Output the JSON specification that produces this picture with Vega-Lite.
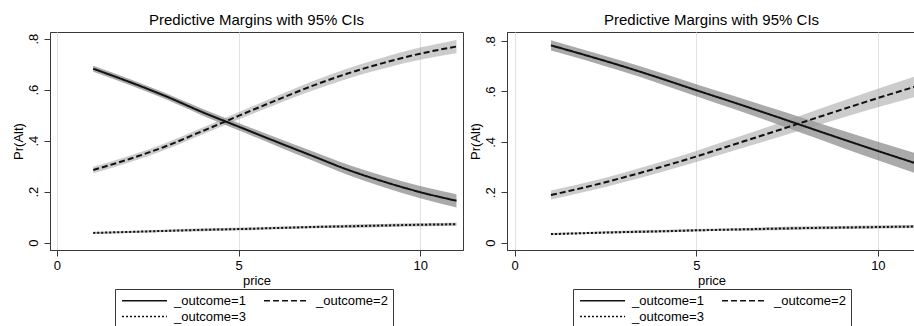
{
  "$schema": "https://vega.github.io/schema/vega-lite/v6.json",
  "background": "white",
  "padding": {"left": 11, "top": 12, "right": 0, "bottom": 0},
  "config": {
    "font": "Liberation Sans",
    "view": {"stroke": "#3a3a3a", "strokeWidth": 1},
    "axis": {"domainColor": "#3a3a3a", "tickColor": "#3a3a3a", "tickSize": 6, "labelFontSize": 13, "titleFontSize": 13, "titleFontWeight": "normal", "labelColor": "black", "titleColor": "black", "gridColor": "#e2e2e2"},
    "title": {"fontSize": 15, "fontWeight": "normal", "offset": 4, "color": "black"},
    "legend": {"direction": "horizontal", "columns": 2, "strokeColor": "#3a3a3a", "fillColor": "white", "padding": 5, "symbolType": "M-1,0H9", "symbolSize": 81, "symbolStrokeWidth": 1.6, "symbolStrokeColor": "#111111", "symbolFillColor": "transparent", "labelFontSize": 13, "labelColor": "black", "labelOffset": 41, "columnPadding": 14, "rowPadding": 2, "labelLimit": 200},
    "concat": {"spacing": 4}
  },
  "datasets": {
    "m": [
      {"panel": "L", "price": 1, "outcome": "_outcome=1", "margin": 0.682, "lo": 0.670, "hi": 0.694},
      {"panel": "L", "price": 2, "outcome": "_outcome=1", "margin": 0.630, "lo": 0.618, "hi": 0.642},
      {"panel": "L", "price": 3, "outcome": "_outcome=1", "margin": 0.574, "lo": 0.562, "hi": 0.586},
      {"panel": "L", "price": 4, "outcome": "_outcome=1", "margin": 0.512, "lo": 0.499, "hi": 0.525},
      {"panel": "L", "price": 5, "outcome": "_outcome=1", "margin": 0.455, "lo": 0.441, "hi": 0.469},
      {"panel": "L", "price": 6, "outcome": "_outcome=1", "margin": 0.398, "lo": 0.382, "hi": 0.414},
      {"panel": "L", "price": 7, "outcome": "_outcome=1", "margin": 0.342, "lo": 0.324, "hi": 0.360},
      {"panel": "L", "price": 8, "outcome": "_outcome=1", "margin": 0.286, "lo": 0.266, "hi": 0.306},
      {"panel": "L", "price": 9, "outcome": "_outcome=1", "margin": 0.239, "lo": 0.217, "hi": 0.261},
      {"panel": "L", "price": 10, "outcome": "_outcome=1", "margin": 0.198, "lo": 0.174, "hi": 0.222},
      {"panel": "L", "price": 11, "outcome": "_outcome=1", "margin": 0.164, "lo": 0.138, "hi": 0.190},
      {"panel": "L", "price": 1, "outcome": "_outcome=2", "margin": 0.285, "lo": 0.272, "hi": 0.298},
      {"panel": "L", "price": 2, "outcome": "_outcome=2", "margin": 0.328, "lo": 0.315, "hi": 0.341},
      {"panel": "L", "price": 3, "outcome": "_outcome=2", "margin": 0.378, "lo": 0.365, "hi": 0.391},
      {"panel": "L", "price": 4, "outcome": "_outcome=2", "margin": 0.437, "lo": 0.424, "hi": 0.450},
      {"panel": "L", "price": 5, "outcome": "_outcome=2", "margin": 0.497, "lo": 0.483, "hi": 0.511},
      {"panel": "L", "price": 6, "outcome": "_outcome=2", "margin": 0.556, "lo": 0.540, "hi": 0.572},
      {"panel": "L", "price": 7, "outcome": "_outcome=2", "margin": 0.613, "lo": 0.595, "hi": 0.631},
      {"panel": "L", "price": 8, "outcome": "_outcome=2", "margin": 0.663, "lo": 0.643, "hi": 0.683},
      {"panel": "L", "price": 9, "outcome": "_outcome=2", "margin": 0.705, "lo": 0.683, "hi": 0.727},
      {"panel": "L", "price": 10, "outcome": "_outcome=2", "margin": 0.741, "lo": 0.717, "hi": 0.765},
      {"panel": "L", "price": 11, "outcome": "_outcome=2", "margin": 0.769, "lo": 0.743, "hi": 0.795},
      {"panel": "L", "price": 1, "outcome": "_outcome=3", "margin": 0.038, "lo": 0.034, "hi": 0.042},
      {"panel": "L", "price": 2, "outcome": "_outcome=3", "margin": 0.042, "lo": 0.038, "hi": 0.046},
      {"panel": "L", "price": 3, "outcome": "_outcome=3", "margin": 0.046, "lo": 0.042, "hi": 0.050},
      {"panel": "L", "price": 4, "outcome": "_outcome=3", "margin": 0.050, "lo": 0.045, "hi": 0.055},
      {"panel": "L", "price": 5, "outcome": "_outcome=3", "margin": 0.053, "lo": 0.048, "hi": 0.058},
      {"panel": "L", "price": 6, "outcome": "_outcome=3", "margin": 0.057, "lo": 0.052, "hi": 0.062},
      {"panel": "L", "price": 7, "outcome": "_outcome=3", "margin": 0.061, "lo": 0.056, "hi": 0.066},
      {"panel": "L", "price": 8, "outcome": "_outcome=3", "margin": 0.064, "lo": 0.058, "hi": 0.070},
      {"panel": "L", "price": 9, "outcome": "_outcome=3", "margin": 0.067, "lo": 0.061, "hi": 0.073},
      {"panel": "L", "price": 10, "outcome": "_outcome=3", "margin": 0.070, "lo": 0.064, "hi": 0.076},
      {"panel": "L", "price": 11, "outcome": "_outcome=3", "margin": 0.072, "lo": 0.066, "hi": 0.078},
      {"panel": "R", "price": 1, "outcome": "_outcome=1", "margin": 0.783, "lo": 0.763, "hi": 0.803},
      {"panel": "R", "price": 2, "outcome": "_outcome=1", "margin": 0.742, "lo": 0.722, "hi": 0.762},
      {"panel": "R", "price": 3, "outcome": "_outcome=1", "margin": 0.699, "lo": 0.678, "hi": 0.720},
      {"panel": "R", "price": 4, "outcome": "_outcome=1", "margin": 0.653, "lo": 0.631, "hi": 0.675},
      {"panel": "R", "price": 5, "outcome": "_outcome=1", "margin": 0.605, "lo": 0.581, "hi": 0.629},
      {"panel": "R", "price": 6, "outcome": "_outcome=1", "margin": 0.558, "lo": 0.532, "hi": 0.584},
      {"panel": "R", "price": 7, "outcome": "_outcome=1", "margin": 0.510, "lo": 0.482, "hi": 0.538},
      {"panel": "R", "price": 8, "outcome": "_outcome=1", "margin": 0.461, "lo": 0.430, "hi": 0.492},
      {"panel": "R", "price": 9, "outcome": "_outcome=1", "margin": 0.412, "lo": 0.378, "hi": 0.446},
      {"panel": "R", "price": 10, "outcome": "_outcome=1", "margin": 0.364, "lo": 0.327, "hi": 0.401},
      {"panel": "R", "price": 11, "outcome": "_outcome=1", "margin": 0.317, "lo": 0.277, "hi": 0.357},
      {"panel": "R", "price": 1, "outcome": "_outcome=2", "margin": 0.189, "lo": 0.171, "hi": 0.207},
      {"panel": "R", "price": 2, "outcome": "_outcome=2", "margin": 0.222, "lo": 0.204, "hi": 0.240},
      {"panel": "R", "price": 3, "outcome": "_outcome=2", "margin": 0.259, "lo": 0.240, "hi": 0.278},
      {"panel": "R", "price": 4, "outcome": "_outcome=2", "margin": 0.299, "lo": 0.279, "hi": 0.319},
      {"panel": "R", "price": 5, "outcome": "_outcome=2", "margin": 0.342, "lo": 0.320, "hi": 0.364},
      {"panel": "R", "price": 6, "outcome": "_outcome=2", "margin": 0.388, "lo": 0.364, "hi": 0.412},
      {"panel": "R", "price": 7, "outcome": "_outcome=2", "margin": 0.434, "lo": 0.407, "hi": 0.461},
      {"panel": "R", "price": 8, "outcome": "_outcome=2", "margin": 0.481, "lo": 0.451, "hi": 0.511},
      {"panel": "R", "price": 9, "outcome": "_outcome=2", "margin": 0.528, "lo": 0.495, "hi": 0.561},
      {"panel": "R", "price": 10, "outcome": "_outcome=2", "margin": 0.574, "lo": 0.537, "hi": 0.611},
      {"panel": "R", "price": 11, "outcome": "_outcome=2", "margin": 0.618, "lo": 0.577, "hi": 0.659},
      {"panel": "R", "price": 1, "outcome": "_outcome=3", "margin": 0.034, "lo": 0.030, "hi": 0.038},
      {"panel": "R", "price": 2, "outcome": "_outcome=3", "margin": 0.038, "lo": 0.034, "hi": 0.042},
      {"panel": "R", "price": 3, "outcome": "_outcome=3", "margin": 0.042, "lo": 0.037, "hi": 0.047},
      {"panel": "R", "price": 4, "outcome": "_outcome=3", "margin": 0.045, "lo": 0.040, "hi": 0.050},
      {"panel": "R", "price": 5, "outcome": "_outcome=3", "margin": 0.049, "lo": 0.044, "hi": 0.054},
      {"panel": "R", "price": 6, "outcome": "_outcome=3", "margin": 0.052, "lo": 0.047, "hi": 0.057},
      {"panel": "R", "price": 7, "outcome": "_outcome=3", "margin": 0.055, "lo": 0.049, "hi": 0.061},
      {"panel": "R", "price": 8, "outcome": "_outcome=3", "margin": 0.058, "lo": 0.052, "hi": 0.064},
      {"panel": "R", "price": 9, "outcome": "_outcome=3", "margin": 0.060, "lo": 0.054, "hi": 0.066},
      {"panel": "R", "price": 10, "outcome": "_outcome=3", "margin": 0.062, "lo": 0.056, "hi": 0.068},
      {"panel": "R", "price": 11, "outcome": "_outcome=3", "margin": 0.064, "lo": 0.058, "hi": 0.070}
    ]
  },
  "hconcat": [
    {
      "title": "Predictive Margins with 95% CIs",
      "width": 413,
      "height": 218,
      "data": {"name": "m"},
      "transform": [{"filter": "datum.panel == 'L'"}],
      "encoding": {
        "x": {"field": "price", "type": "quantitative", "scale": {"domain": [-0.19, 11.18], "nice": false, "zero": false}, "axis": {"values": [0, 5, 10], "grid": true, "title": "price", "labelPadding": 3, "titlePadding": 2}},
        "y": {"type": "quantitative", "scale": {"domain": [-0.029, 0.826], "nice": false, "zero": false}, "axis": {"values": [0, 0.2, 0.4, 0.6, 0.8], "labelExpr": "datum.value == 0 ? '0' : replace(format(datum.value, '.1f'), '0.', '.')", "labelAngle": 270, "title": "Pr(Alt)", "titlePadding": 2, "labelPadding": 4, "grid": false}}
      },
      "layer": [
        {
          "transform": [{"filter": "datum.outcome == '_outcome=1'"}],
          "mark": {"type": "area", "interpolate": "monotone", "fill": "#555555", "fillOpacity": 0.5},
          "encoding": {"y": {"field": "lo", "type": "quantitative", "title": "Pr(Alt)"}, "y2": {"field": "hi"}}
        },
        {
          "transform": [{"filter": "datum.outcome == '_outcome=2'"}],
          "mark": {"type": "area", "interpolate": "monotone", "fill": "#999999", "fillOpacity": 0.5},
          "encoding": {"y": {"field": "lo", "type": "quantitative", "title": "Pr(Alt)"}, "y2": {"field": "hi"}}
        },
        {
          "transform": [{"filter": "datum.outcome == '_outcome=3'"}],
          "mark": {"type": "area", "interpolate": "monotone", "fill": "#666666", "fillOpacity": 0.5},
          "encoding": {"y": {"field": "lo", "type": "quantitative", "title": "Pr(Alt)"}, "y2": {"field": "hi"}}
        },
        {
          "mark": {"type": "line", "interpolate": "monotone", "color": "#111111", "strokeWidth": 2},
          "encoding": {
            "y": {"field": "margin", "type": "quantitative", "title": "Pr(Alt)"},
            "strokeDash": {"field": "outcome", "type": "nominal", "scale": {"domain": ["_outcome=1", "_outcome=2", "_outcome=3"], "range": [[1, 0], [6, 3], [2, 2]]}, "legend": {"title": null, "orient": "none", "legendX": 65, "legendY": 257}}
          }
        }
      ]
    },
    {
      "title": "Predictive Margins with 95% CIs",
      "width": 409,
      "height": 218,
      "data": {"name": "m"},
      "transform": [{"filter": "datum.panel == 'R'"}],
      "encoding": {
        "x": {"field": "price", "type": "quantitative", "scale": {"domain": [-0.21, 11.05], "nice": false, "zero": false}, "axis": {"values": [0, 5, 10], "grid": true, "title": "price", "labelPadding": 3, "titlePadding": 2}},
        "y": {"type": "quantitative", "scale": {"domain": [-0.029, 0.836], "nice": false, "zero": false}, "axis": {"values": [0, 0.2, 0.4, 0.6, 0.8], "labelExpr": "datum.value == 0 ? '0' : replace(format(datum.value, '.1f'), '0.', '.')", "labelAngle": 270, "title": "Pr(Alt)", "titlePadding": 2, "labelPadding": 4, "grid": false}}
      },
      "layer": [
        {
          "transform": [{"filter": "datum.outcome == '_outcome=1'"}],
          "mark": {"type": "area", "interpolate": "monotone", "fill": "#555555", "fillOpacity": 0.5},
          "encoding": {"y": {"field": "lo", "type": "quantitative", "title": "Pr(Alt)"}, "y2": {"field": "hi"}}
        },
        {
          "transform": [{"filter": "datum.outcome == '_outcome=2'"}],
          "mark": {"type": "area", "interpolate": "monotone", "fill": "#999999", "fillOpacity": 0.5},
          "encoding": {"y": {"field": "lo", "type": "quantitative", "title": "Pr(Alt)"}, "y2": {"field": "hi"}}
        },
        {
          "transform": [{"filter": "datum.outcome == '_outcome=3'"}],
          "mark": {"type": "area", "interpolate": "monotone", "fill": "#666666", "fillOpacity": 0.5},
          "encoding": {"y": {"field": "lo", "type": "quantitative", "title": "Pr(Alt)"}, "y2": {"field": "hi"}}
        },
        {
          "mark": {"type": "line", "interpolate": "monotone", "color": "#111111", "strokeWidth": 2},
          "encoding": {
            "y": {"field": "margin", "type": "quantitative", "title": "Pr(Alt)"},
            "strokeDash": {"field": "outcome", "type": "nominal", "scale": {"domain": ["_outcome=1", "_outcome=2", "_outcome=3"], "range": [[1, 0], [6, 3], [2, 2]]}, "legend": {"title": null, "orient": "none", "legendX": 66, "legendY": 257}}
          }
        }
      ]
    }
  ],
  "resolve": {"scale": {"x": "independent", "y": "independent", "strokeDash": "independent"}, "legend": {"strokeDash": "independent"}}
}
